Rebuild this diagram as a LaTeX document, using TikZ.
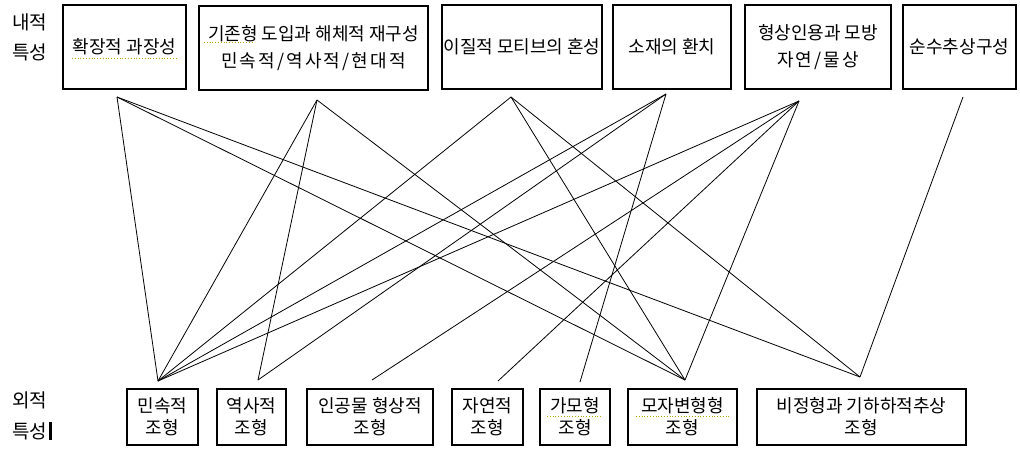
\documentclass[tikz,border=0pt]{standalone}
\usepackage{fontspec}
\newfontfamily\kr{Noto Sans CJK KR}
\tikzset{
  box/.style={draw=black, line width=1.1pt, rectangle, inner sep=0pt, align=center,
    font=\kr\fontsize{18}{22}\selectfont},
  tbox/.style={box, font=\kr\fontsize{18}{27.5}\selectfont},
  lab/.style={inner sep=0pt, font=\kr\fontsize{19}{22}\selectfont},
  link/.style={draw=black, line width=0.8pt},
  squig/.style={draw=olive!70!yellow, line width=0.8pt, dotted}
}
\begin{document}
\begin{tikzpicture}[x=1pt,y=-1pt]
\useasboundingbox (0,0) rectangle (1020,450);
\fill[white] (0,0) rectangle (1020,450);
% labels
\node[lab] (in1) at (30,22) {내적};
\node[lab] (in2) at (30,52) {특성};
\node[lab] (out1) at (30,400) {외적};
\node[lab] (out2) at (30,431) {특성};
\fill[black] ([xshift=1.5pt]out2.east |- 0,422) rectangle ([xshift=4pt]out2.east |- 0,440);
% top boxes
\node[tbox, minimum width=123pt, minimum height=84pt] (A) at (124.5,47) {확장적 과장성};
\node[tbox, minimum width=229pt, minimum height=84pt] (B) at (313.5,48) {기존형 도입과 해체적 재구성\\\addfontfeature{LetterSpace=12}민속적/역사적/현대적};
\node[tbox, minimum width=160pt, minimum height=84pt] (C) at (522,47) {이질적 모티브의 혼성};
\node[tbox, minimum width=118pt, minimum height=84pt] (D) at (672,47) {소재의 환치};
\node[tbox, minimum width=146pt, minimum height=84pt] (E) at (818,47) {형상인용과 모방\\\addfontfeature{LetterSpace=12}자연/물상};
\node[tbox, minimum width=113pt, minimum height=84pt] (F) at (959.5,47) {순수추상구성};
% bottom boxes
\node[box, minimum width=71pt, minimum height=56pt] (G) at (162.5,417) {민속적\\조형};
\node[box, minimum width=69pt, minimum height=56pt] (H) at (251.5,417) {역사적\\조형};
\node[box, minimum width=126pt, minimum height=56pt] (I) at (370,417) {인공물 형상적\\조형};
\node[box, minimum width=71pt, minimum height=56pt] (J) at (487.5,417) {자연적\\조형};
\node[box, minimum width=70pt, minimum height=56pt] (K) at (575,417) {가모형\\조형};
\node[box, minimum width=109pt, minimum height=56pt] (L) at (682.5,417) {모자변형형\\조형};
\node[box, minimum width=209pt, minimum height=56pt] (M) at (861.5,417) {비정형과 기하하적추상\\조형};
% connector end points
\coordinate (a) at (117,97);
\coordinate (b) at (317,100);
\coordinate (c) at (511,97);
\coordinate (d) at (666,94);
\coordinate (e) at (799,101);
\coordinate (f) at (963,97);
\coordinate (g) at (158,381);
\coordinate (h) at (258,380);
\coordinate (i) at (372,380);
\coordinate (j) at (498,381);
\coordinate (k) at (580,382);
\coordinate (l) at (685,380);
\coordinate (m) at (860,377);
% connectors
\draw[link] (a) -- (g);
\draw[link] (a) -- (l);
\draw[link] (a) -- (m);
\draw[link] (b) -- (g);
\draw[link] (b) -- (h);
\draw[link] (b) -- (l);
\draw[link] (c) -- (g);
\draw[link] (c) -- (l);
\draw[link] (c) -- (m);
\draw[link] (d) -- (g);
\draw[link] (d) -- (h);
\draw[link] (d) -- (k);
\draw[link] (e) -- (g);
\draw[link] (e) -- (i);
\draw[link] (e) -- (j);
\draw[link] (e) -- (l);
\draw[link] (f) -- (m);
% spell-check underlines
\draw[squig] (72,58) -- (178,58);
\draw[squig] (204,42) -- (252,42);
\draw[squig] (547,416) -- (601,416);
\draw[squig] (636,416) -- (731,416);
\end{tikzpicture}
\end{document}
